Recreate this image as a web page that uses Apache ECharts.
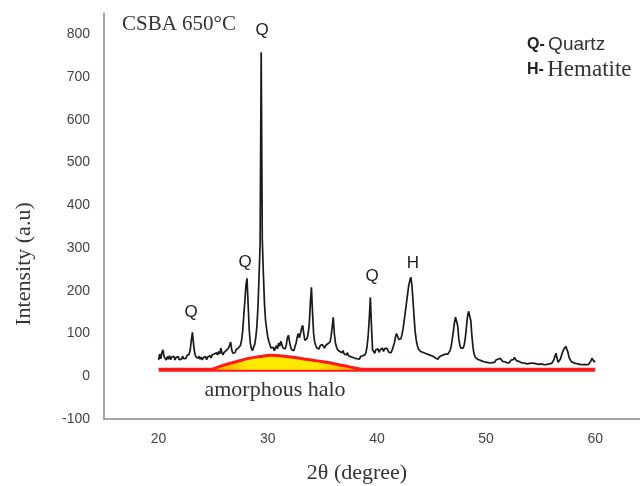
<!DOCTYPE html>
<html>
<head>
<meta charset="utf-8">
<script src="https://cdn.jsdelivr.net/npm/echarts@6/dist/echarts.min.js"></script>
<style>
html,body{margin:0;padding:0;background:#fff;}
#main{width:640px;height:486px;}
</style>
</head>
<body>
<div id="main"></div>
<script>
// 2θ 刻度
var xTicks = [20, 30, 40, 50, 60];

// XRD 图谱 [2θ, 强度]
var pattern = [
[20.0,38],[20.1,52],[20.2,41],[20.3,55],[20.4,62],[20.5,46],[20.6,50],[20.7,38],[20.8,46],[20.9,40],
[21.0,48],[21.1,39],[21.2,45],[21.3,41],[21.4,47],[21.5,38],[21.6,44],[21.7,40],[21.8,46],[21.9,39],
[22.0,43],[22.1,40],[22.2,47],[22.3,41],[22.4,45],[22.5,42],[22.6,48],[22.7,44],[22.8,52],[22.9,62],
[23.0,84],[23.1,103],[23.2,76],[23.3,55],[23.4,46],[23.5,50],[23.6,42],[23.7,47],[23.8,40],[23.9,45],
[24.0,38],[24.1,44],[24.2,40],[24.3,46],[24.4,39],[24.5,45],[24.6,42],[24.7,48],[24.8,43],[24.9,50],
[25.0,46],[25.1,52],[25.2,48],[25.3,55],[25.4,50],[25.5,58],[25.6,52],[25.7,66],[25.8,55],[25.9,50],
[26.0,56],[26.1,52],[26.2,60],[26.3,58],[26.4,66],[26.5,72],[26.6,80],[26.7,62],[26.8,54],[26.9,58],
[27.0,55],[27.1,62],[27.2,58],[27.3,66],[27.4,64],[27.5,72],[27.6,84],[27.7,105],[27.8,140],[27.9,175],
[28.0,212],[28.1,229],[28.2,170],[28.3,110],[28.4,78],[28.5,65],[28.6,60],[28.7,68],[28.8,74],[28.9,90],
[29.0,115],[29.1,160],[29.2,230],[29.3,310],[29.4,758],[29.5,320],[29.6,240],[29.7,170],[29.8,130],[29.9,110],
[30.0,92],[30.1,82],[30.2,74],[30.3,66],[30.4,62],[30.5,68],[30.6,60],[30.7,66],[30.8,72],[30.9,64],
[31.0,78],[31.1,70],[31.2,82],[31.3,74],[31.4,66],[31.5,70],[31.6,64],[31.7,74],[31.8,90],[31.9,96],
[32.0,80],[32.1,68],[32.2,62],[32.3,66],[32.4,60],[32.5,70],[32.6,78],[32.7,92],[32.8,100],[32.9,90],
[33.0,100],[33.1,112],[33.2,119],[33.3,100],[33.4,84],[33.5,80],[33.6,88],[33.7,100],[33.8,120],[33.9,170],
[34.0,208],[34.1,150],[34.2,100],[34.3,80],[34.4,72],[34.5,66],[34.6,70],[34.7,64],[34.8,72],[34.9,68],
[35.0,74],[35.1,70],[35.2,66],[35.3,72],[35.4,68],[35.5,76],[35.6,72],[35.7,80],[35.8,92],[35.9,115],
[36.0,138],[36.1,100],[36.2,78],[36.3,68],[36.4,62],[36.5,66],[36.6,58],[36.7,62],[36.8,55],[36.9,60],
[37.0,52],[37.1,56],[37.2,50],[37.3,55],[37.4,48],[37.5,52],[37.6,46],[37.7,50],[37.8,44],[37.9,48],
[38.0,42],[38.1,46],[38.2,41],[38.3,45],[38.4,40],[38.5,46],[38.6,43],[38.7,48],[38.8,44],[38.9,50],
[39.0,56],[39.1,70],[39.2,95],[39.3,135],[39.4,185],[39.5,118],[39.6,62],[39.7,60],[39.8,54],[39.9,62],
[40.0,58],[40.1,64],[40.2,56],[40.3,62],[40.4,60],[40.5,66],[40.6,58],[40.7,64],[40.8,60],[40.9,66],
[41.0,62],[41.1,56],[41.2,60],[41.3,55],[41.4,62],[41.5,66],[41.6,78],[41.7,92],[41.8,100],[41.9,96],
[42.0,86],[42.1,82],[42.2,88],[42.3,98],[42.4,112],[42.5,130],[42.6,150],[42.7,170],[42.8,190],[42.9,210],
[43.0,222],[43.1,232],[43.2,215],[43.3,180],[43.4,140],[43.5,105],[43.6,85],[43.7,72],[43.8,64],[43.9,66],
[44.0,58],[44.1,62],[44.2,56],[44.3,60],[44.4,54],[44.5,58],[44.6,52],[44.7,56],[44.8,50],[44.9,54],
[45.0,48],[45.1,52],[45.2,46],[45.3,50],[45.4,42],[45.5,46],[45.6,40],[45.7,45],[45.8,42],[45.9,48],
[46.0,44],[46.1,50],[46.2,46],[46.3,52],[46.4,48],[46.5,52],[46.6,56],[46.7,60],[46.8,70],[46.9,86],
[47.0,105],[47.1,125],[47.2,138],[47.3,140],[47.4,118],[47.5,88],[47.6,72],[47.7,66],[47.8,70],[47.9,66],
[48.0,74],[48.1,90],[48.2,115],[48.3,140],[48.4,152],[48.5,155],[48.6,130],[48.7,95],[48.8,68],[48.9,52],
[49.0,45],[49.1,48],[49.2,40],[49.3,44],[49.4,38],[49.5,42],[49.6,36],[49.7,40],[49.8,34],[49.9,38],
[50.0,33],[50.1,37],[50.2,32],[50.3,36],[50.4,31],[50.5,35],[50.6,32],[50.7,36],[50.8,33],[50.9,38],
[51.0,34],[51.1,40],[51.2,36],[51.3,42],[51.4,38],[51.5,35],[51.6,39],[51.7,34],[51.8,38],[51.9,32],
[52.0,36],[52.1,31],[52.2,35],[52.3,38],[52.4,42],[52.5,39],[52.6,44],[52.7,40],[52.8,36],[52.9,40],
[53.0,35],[53.1,38],[53.2,32],[53.3,36],[53.4,31],[53.5,34],[53.6,30],[53.7,33],[53.8,29],[53.9,32],
[54.0,30],[54.1,34],[54.2,31],[54.3,35],[54.4,30],[54.5,33],[54.6,29],[54.7,32],[54.8,28],[54.9,31],
[55.0,29],[55.1,32],[55.2,28],[55.3,31],[55.4,27],[55.5,30],[55.6,28],[55.7,31],[55.8,29],[55.9,33],
[56.0,30],[56.1,34],[56.2,38],[56.3,46],[56.4,54],[56.5,42],[56.6,33],[56.7,36],[56.8,40],[56.9,48],
[57.0,56],[57.1,62],[57.2,66],[57.3,70],[57.4,72],[57.5,56],[57.6,44],[57.7,40],[57.8,34],[57.9,37],
[58.0,32],[58.1,35],[58.2,30],[58.3,33],[58.4,29],[58.5,32],[58.6,28],[58.7,31],[58.8,27],[58.9,30],
[59.0,28],[59.1,31],[59.2,27],[59.3,30],[59.4,28],[59.5,32],[59.6,36],[59.7,42],[59.8,38],[59.9,34],
[60.0,36]
];

// 非晶峰 (amorphous halo)
var halo = [
[24.8,15],[25.5,22],[26.5,30],[27.5,37],[28.5,43],[29.5,47],[30.3,49],[31.5,47],
[32.5,44],[33.5,40],[34.5,36],[35.5,32],[36.5,27],[37.5,22],[38.2,18],[38.8,15]
];

// 基线
var baseline = [[20,15],[60,15]];

var myChart = echarts.init(document.getElementById('main'));
myChart.setOption({
	animation: false,
	backgroundColor: '#fff',
	grid: {left: 104, right: 0, top: 13, bottom: 67},
	xAxis: {
		type: 'value',
		min: 15,
		max: 64.1,
		interval: 5,
		axisLine: {onZero: false, lineStyle: {color: '#888', width: 1.5}},
		axisTick: {show: false},
		splitLine: {show: false},
		axisLabel: {
			margin: 13,
			color: '#444',
			fontSize: 14,
			fontFamily: 'Liberation Sans',
			showMaxLabel: false,
			formatter: function(v){
				return xTicks.indexOf(v) >= 0 ? String(v) : '';
			}
		}
	},
	yAxis: {
		type: 'value',
		min: -100,
		max: 850,
		interval: 100,
		axisLine: {show: true, onZero: false, lineStyle: {color: '#888', width: 1.5}},
		axisTick: {show: false},
		splitLine: {show: false},
		axisLabel: {
			margin: 14,
			color: '#444',
			fontSize: 14,
			fontFamily: 'Liberation Sans',
			showMaxLabel: false
		}
	},
	series: [
		{
			type: 'line',
			data: baseline,
			symbol: 'none',
			lineStyle: {color: '#ff1a1a', width: 4},
			z: 2
		},
		{
			type: 'line',
			data: halo,
			smooth: true,
			symbol: 'none',
			lineStyle: {color: '#ff1a1a', width: 3},
			areaStyle: {
				origin: 15,
				opacity: 1,
				color: new echarts.graphic.LinearGradient(0, 0, 1, 0, [
					{offset: 0, color: '#ff9900'},
					{offset: 0.25, color: '#ffea00'},
					{offset: 0.7, color: '#ffea00'},
					{offset: 1, color: '#ff9900'}
				])
			},
			z: 3
		},
		{
			type: 'line',
			data: pattern,
			symbol: 'none',
			lineStyle: {color: '#1a1a1a', width: 1.7},
			z: 4
		}
	],
	graphic: [
		{type: 'text', left: 122, top: 14, style: {text: 'CSBA 650°C', font: '21px "Liberation Serif"', fill: '#333'}},
		{type: 'text', style: {x: 262, y: 30, text: 'Q', font: '17px "Liberation Sans"', fill: '#222', align: 'center', verticalAlign: 'middle'}},
		{type: 'text', style: {x: 245, y: 262, text: 'Q', font: '17px "Liberation Sans"', fill: '#222', align: 'center', verticalAlign: 'middle'}},
		{type: 'text', style: {x: 191, y: 312, text: 'Q', font: '17px "Liberation Sans"', fill: '#222', align: 'center', verticalAlign: 'middle'}},
		{type: 'text', style: {x: 372, y: 276, text: 'Q', font: '17px "Liberation Sans"', fill: '#222', align: 'center', verticalAlign: 'middle'}},
		{type: 'text', style: {x: 413, y: 263, text: 'H', font: '17px "Liberation Sans"', fill: '#222', align: 'center', verticalAlign: 'middle'}},
		{type: 'text', style: {x: 527, y: 45, verticalAlign: 'middle', text: '{b|Q-} {s|Quartz}',
			rich: {b: {font: 'bold 16px "Liberation Sans"', fill: '#222'}, s: {font: '19px "Liberation Sans"', fill: '#333'}}}},
		{type: 'text', style: {x: 527, y: 70, verticalAlign: 'middle', text: '{b|H-} {s|Hematite}',
			rich: {b: {font: 'bold 16px "Liberation Sans"', fill: '#222'}, s: {font: '23px "Liberation Serif"', fill: '#333'}}}},
		{type: 'text', style: {x: 275, y: 390, text: 'amorphous halo', font: '22px "Liberation Serif"', fill: '#333', align: 'center', verticalAlign: 'middle'}},
		{type: 'text', style: {x: 357, y: 473, text: '2θ (degree)', font: '22px "Liberation Serif"', fill: '#333', align: 'center', verticalAlign: 'middle'}},
		{type: 'text', x: 24, y: 264, rotation: Math.PI / 2, style: {x: 0, y: 0, text: 'Intensity (a.u)', font: '22px "Liberation Serif"', fill: '#333', align: 'center', verticalAlign: 'middle'}}
	]
});
</script>
</body>
</html>
